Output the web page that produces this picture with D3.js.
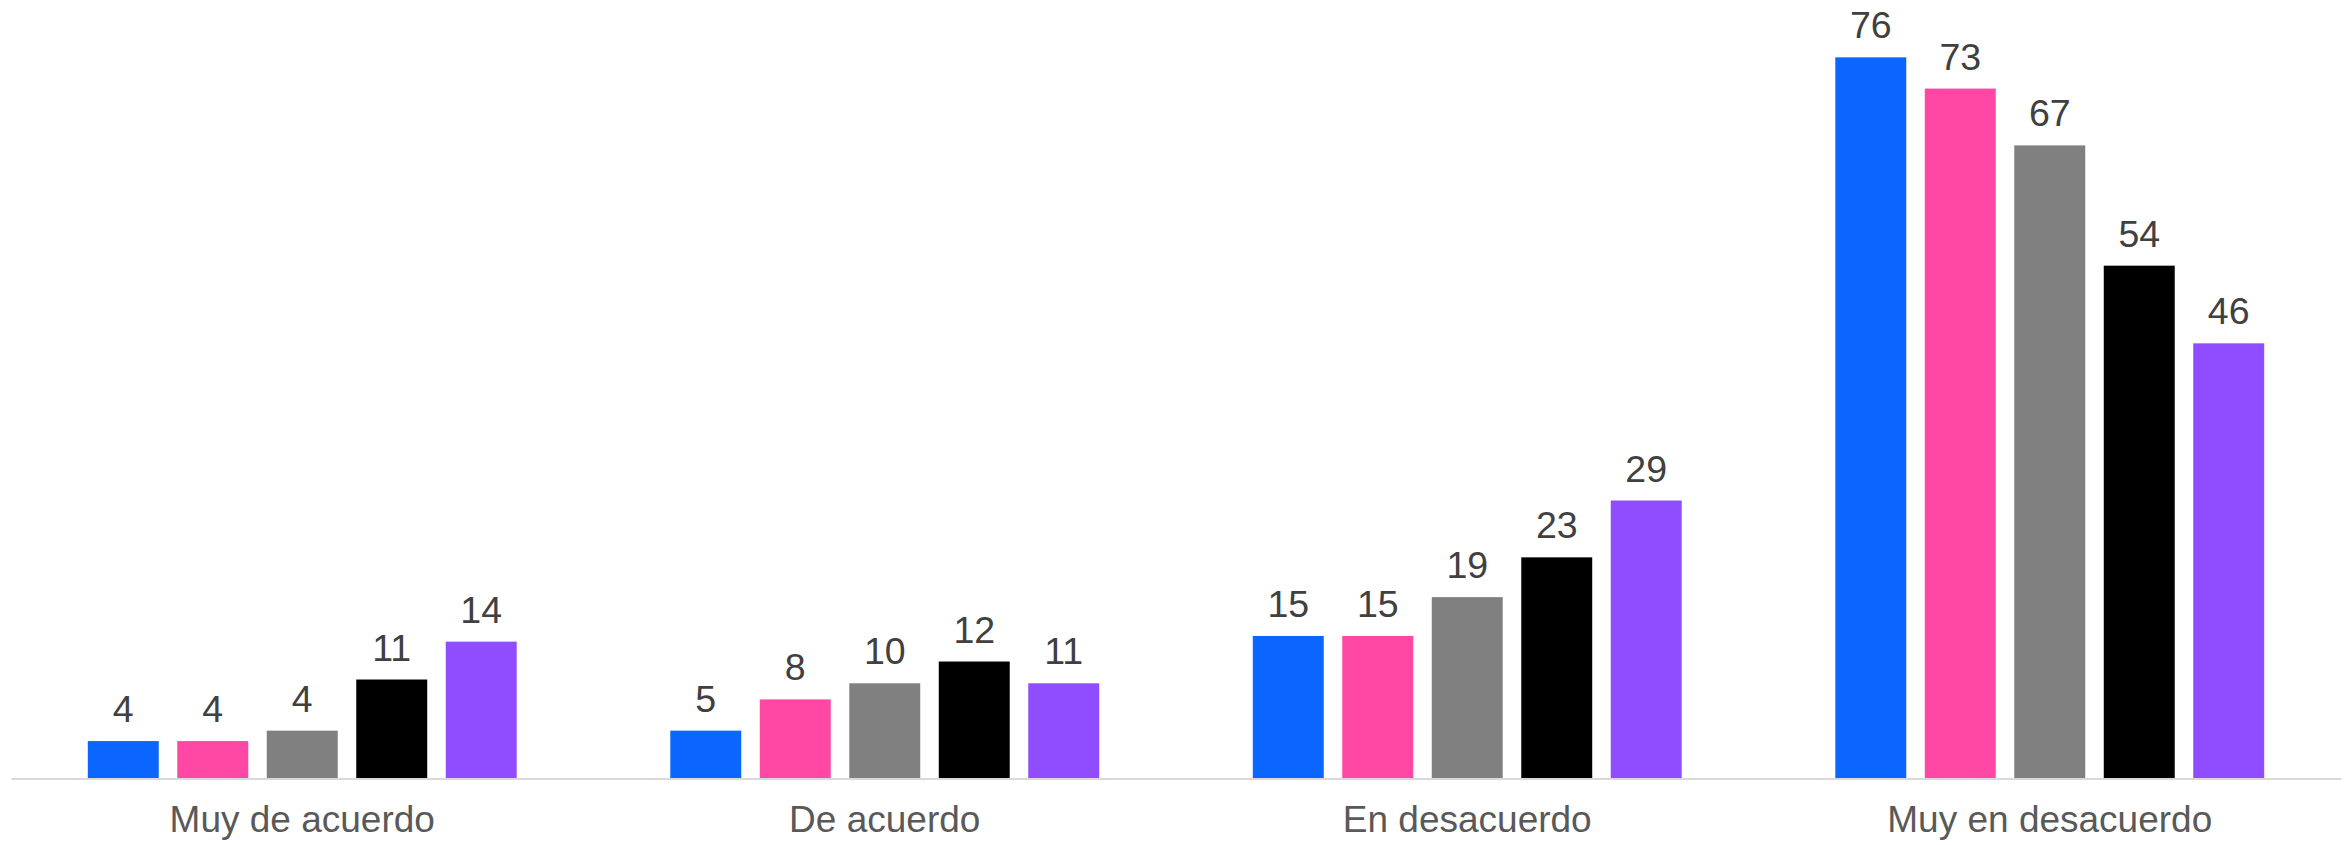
<!DOCTYPE html>
<html lang="es">
<head>
    <meta charset="utf-8">
    <script src="https://d3js.org/d3.v7.min.js"></script>
    <style>
        body {
            margin: 0;
            background: white;
        }
        text {
            font-family: "Liberation Sans", Arial, sans-serif;
        }
        .value {
            fill: #404040;
            font-size: 37.5px;
            text-anchor: middle;
        }
        .axis text {
            fill: #595959;
            font-size: 37px;
        }
        .axis path {
            stroke: #d9d9d9;
            stroke-width: 2px;
        }
    </style>
</head>
<body>
<script>
    // categorias del eje x
    const categories = ['Muy de acuerdo', 'De acuerdo', 'En desacuerdo', 'Muy en desacuerdo'];

    // altura de cada barra, una lista por serie
    const serie1 = [3.9, 5.0, 15.0, 76.1];
    const serie2 = [3.9, 8.3, 15.0, 72.8];
    const serie3 = [5.0, 10.0, 19.1, 66.8];
    const serie4 = [10.4, 12.3, 23.3, 54.1];
    const serie5 = [14.4, 10.0, 29.3, 45.9];

    // etiquetas que muestra cada barra
    const labels1 = ['4', '5', '15', '76'];
    const labels2 = ['4', '8', '15', '73'];
    const labels3 = ['4', '10', '19', '67'];
    const labels4 = ['11', '12', '23', '54'];
    const labels5 = ['14', '11', '29', '46'];

    const colors = ['#0b66ff', '#ff47a3', '#808080', '#000000', '#8f4dff'];

    const series = [serie1, serie2, serie3, serie4, serie5];
    const labels = [labels1, labels2, labels3, labels4, labels5];

    const width = 2351, height = 845;
    const baseY = 778;

    let svg = d3.select('body').append('svg')
        .attr('width', width).attr('height', height);

    let x0 = d3.scaleBand().domain(categories).range([11, 2341]).padding(0);
    let x1 = d3.scaleBand().domain(d3.range(series.length))
        .range([0, x0.bandwidth()])
        .paddingInner(0.207).paddingOuter(0.858);
    let y = d3.scaleLinear().domain([0, 80]).range([baseY, baseY - 80 * 9.47]);

    let rows = [];
    categories.forEach(function (c, ci) {
        series.forEach(function (s, si) {
            rows.push({cat: c, idx: si, value: s[ci], label: labels[si][ci]});
        });
    });

    svg.append('g').selectAll('rect')
        .data(rows)
        .join('rect')
        .attr('x', d => x0(d.cat) + x1(d.idx))
        .attr('y', d => y(d.value))
        .attr('width', x1.bandwidth())
        .attr('height', d => baseY - y(d.value))
        .attr('fill', d => colors[d.idx]);

    svg.append('g').selectAll('text')
        .data(rows)
        .join('text')
        .attr('class', 'value')
        .attr('x', d => x0(d.cat) + x1(d.idx) + x1.bandwidth() / 2)
        .attr('y', d => y(d.value) - 19)
        .text(d => d.label);

    let axis = svg.append('g')
        .attr('class', 'axis')
        .attr('transform', 'translate(0,' + (baseY + 0.5) + ')')
        .call(d3.axisBottom(x0).tickSize(0).tickSizeOuter(0).tickPadding(27));
    axis.selectAll('.tick line').remove();
    axis.selectAll('text').attr('font-family', null).attr('font-size', null);
</script>
</body>
</html>
